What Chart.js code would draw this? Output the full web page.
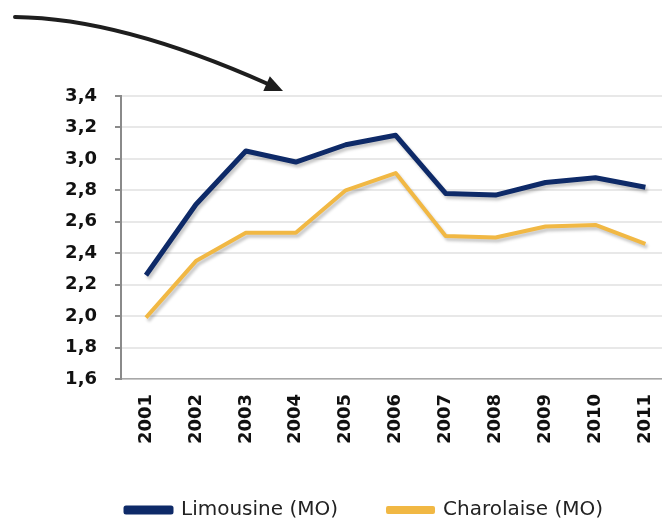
<!DOCTYPE html>
<html>
<head>
<meta charset="utf-8">
<script src="https://cdn.jsdelivr.net/npm/chart.js@4/dist/chart.umd.min.js"></script>
<style>
  html, body { margin: 0; padding: 0; background: #fff; overflow: hidden; }
  #wrap { width: 674px; height: 520px; }
  #chart { width: 674px; height: 520px; display: block; }
</style>
</head>
<body>
<div id="wrap"><canvas id="chart" width="674" height="520"></canvas></div>
<script>
//data
const years = ['2001','2002','2003','2004','2005','2006','2007','2008','2009','2010','2011'];
const limousine = [2.26, 2.71, 3.05, 2.98, 3.09, 3.15, 2.78, 2.77, 2.85, 2.88, 2.82];
const charolaise = [1.99, 2.35, 2.53, 2.53, 2.80, 2.91, 2.51, 2.50, 2.57, 2.58, 2.46];
const seriesNames = ['Limousine (MO)', 'Charolaise (MO)'];

//colors
const navy = '#0e2a68';
const gold = '#f1b844';

//soft shadow under the lines, like the office chart
const shadowPlugin = {
	id: 'lineShadow',
	beforeDatasetDraw(chart){
		const ctx = chart.ctx;
		ctx.save();
		ctx.shadowColor = 'rgba(0,0,0,0.22)';
		ctx.shadowBlur = 3;
		ctx.shadowOffsetX = 2;
		ctx.shadowOffsetY = 3;
	},
	afterDatasetDraw(chart){
		chart.ctx.restore();
	}
};

//the curved arrow drawn on top of the chart
const arrowPlugin = {
	id: 'arrow',
	afterDraw(chart){
		const ctx = chart.ctx;
		ctx.save();
		ctx.strokeStyle = '#1e1e1e';
		ctx.fillStyle = '#1e1e1e';
		ctx.lineWidth = 4;
		ctx.lineCap = 'round';
		ctx.beginPath();
		ctx.moveTo(15, 17);
		ctx.quadraticCurveTo(120, 18, 268, 84);
		ctx.stroke();
		//arrow head
		const tipX = 283, tipY = 91;
		const ang = Math.atan2(84 - 18, 268 - 120);
		ctx.beginPath();
		ctx.moveTo(tipX, tipY);
		ctx.lineTo(tipX - 18*Math.cos(ang) + 8*Math.sin(ang), tipY - 18*Math.sin(ang) - 8*Math.cos(ang));
		ctx.lineTo(tipX - 18*Math.cos(ang) - 8*Math.sin(ang), tipY - 18*Math.sin(ang) + 8*Math.cos(ang));
		ctx.closePath();
		ctx.fill();
		ctx.restore();
	}
};

const ctx = document.getElementById('chart');

const lineChart = new Chart(ctx, {
	type: 'line',
	data:{
		labels: years,
		datasets:[{
			label: seriesNames[0],
			data: limousine,
			borderColor: navy,
			backgroundColor: navy,
			borderWidth: 5,
			pointRadius: 0,
			tension: 0,
			borderJoinStyle: 'round'
		},{
			label: seriesNames[1],
			data: charolaise,
			borderColor: gold,
			backgroundColor: gold,
			borderWidth: 4,
			pointRadius: 0,
			tension: 0,
			borderJoinStyle: 'round'
		}]
	},
	options:{
		responsive: false,
		animation: false,
		layout:{
			padding:{ top: 96, left: 55, right: 0, bottom: 0 }
		},
		plugins:{
			tooltip:{ enabled: false },
			legend:{
				position: 'bottom',
				align: 'center',
				maxHeight: 70,
				labels:{
					boxWidth: 45,
					boxHeight: 4,
					padding: 50,
					color: '#222',
					font:{ family: 'DejaVu Sans', size: 20 }
				}
			}
		},
		scales:{
			x:{
				offset: true,
				grid:{ display: false },
				border:{ color: '#a8a8a8', width: 1.5, dash: [2,3] },
				afterFit(scale){ scale.height = 71; },
				ticks:{
					minRotation: 90,
					maxRotation: 90,
					padding: 7,
					color: '#111',
					font:{ family: 'DejaVu Sans', size: 18, weight: 'bold' }
				}
			},
			y:{
				min: 1.6,
				max: 3.4,
				afterFit(scale){ scale.width = 66; },
				grid:{ color: '#e8e8e8', lineWidth: 2, tickColor: '#8a8a8a', tickLength: 6 },
				border:{ color: '#8a8a8a', width: 2 },
				ticks:{
					stepSize: 0.2,
					padding: 18,
					color: '#111',
					font:{ family: 'DejaVu Sans', size: 18, weight: 'bold' },
					callback: function(v){ return v.toFixed(1).replace('.', ','); }
				}
			}
		}
	},
	plugins: [shadowPlugin, arrowPlugin]
});
</script>
</body>
</html>
